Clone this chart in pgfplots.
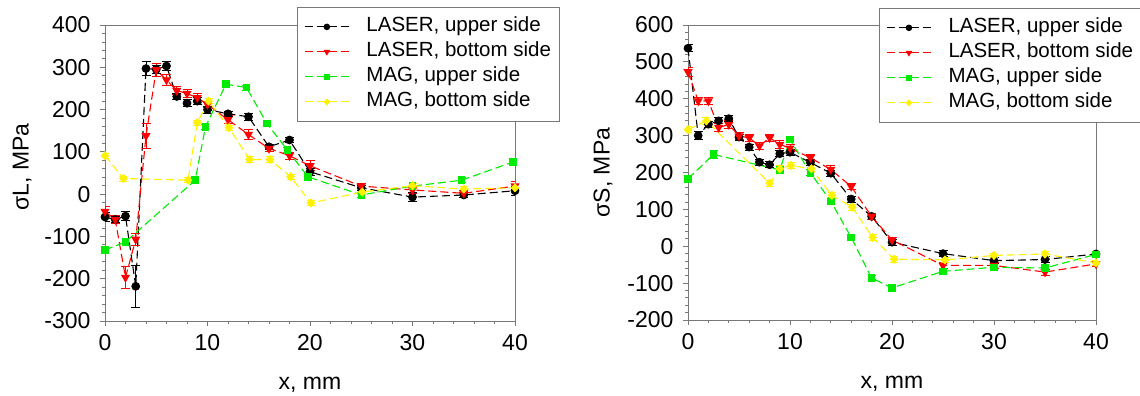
\documentclass[border=0pt]{standalone}
\usepackage{fontspec}
\setmainfont{Liberation Sans}
\usepackage{pgfplots}
\usepackage{pgfplotstable}
\pgfplotsset{compat=1.18}

\definecolor{serRed}{RGB}{255,0,0}
\definecolor{serGreen}{RGB}{0,235,0}
\definecolor{serYellow}{RGB}{255,242,0}
\definecolor{frameGray}{RGB}{120,120,120}

% ---------- longitudinal stress sigma_L ----------
\pgfplotstableread{
x y e
0 -54 10
1 -60 8
2 -52 10
3 -218 50
4 297 16
5 295 10
6 303 10
7 231 8
8 215 8
9 220 8
10 200 8
12 190 6
14 183 8
16 112 6
18 128 6
20 53 8
25 15 6
30 -7 10
35 -2 6
40 8 10
}\Llaserup
\pgfplotstableread{
x y e
0 -41 12
1 -60 10
2 -197 26
3 -107 14
4 138 30
5 294 16
6 270 12
7 245 10
8 238 10
9 228 10
10 212 8
12 176 10
14 141 12
16 108 8
18 91 8
20 67 12
25 19 6
30 10 8
35 2 6
40 19 12
}\Llaserbot
\pgfplotstableread{
x y e
0 -132 8
2 -113 8
8.8 33 6
9.8 159 6
11.8 260 8
13.8 252 6
15.8 167 6
17.8 104 6
19.8 41 8
25 -2 6
30 19 6
34.8 33 6
39.8 76 6
}\Lmagup
\pgfplotstableread{
x y e
0 91 6
1.8 37 6
8.1 33 6
9 169 6
10.1 220 6
12.1 157 6
14.1 82 6
16.1 82 6
18.1 41 6
20.1 -21 6
25.1 5 6
30 20 6
35 12 6
40 15 6
}\Lmagbot

% ---------- transverse stress sigma_S ----------
\pgfplotstableread{
x y e
0 537 10
1 300 10
2 331 8
3 340 8
4 346 8
5 296 8
6 269 8
7 228 8
8 221 8
9 251 8
10 255 8
12 227 8
14 198 8
16 128 8
18 81 8
20 11 8
25 -20 8
30 -39 8
35 -36 8
40 -21 8
}\Slaserup
\pgfplotstableread{
x y e
0 473 12
1 394 10
2 394 10
3 322 10
4 330 10
5 299 10
6 294 10
7 272 10
8 294 10
9 276 10
10 266 10
12 240 10
14 208 10
16 162 8
18 81 8
20 17 8
25 -52 8
30 -52 8
35 -70 8
40 -48 8
}\Slaserbot
\pgfplotstableread{
x y e
0 183 8
2.5 249 10
9 207 8
10 289 8
12 199 8
14 122 8
16 24 8
18 -86 6
20 -113 6
25 -68 6
30 -57 6
35 -59 6
40 -22 6
}\Smagup
\pgfplotstableread{
x y e
0 316 8
1.8 340 10
8 171 8
9 210 8
10.1 219 8
12.1 210 8
14.1 138 8
16.1 106 8
18.1 24 8
20.2 -35 8
25.2 -37 6
30 -25 6
35 -21 6
40 -45 6
}\Smagbot

\pgfplotsset{
  stressaxis/.style={
    scale only axis,
    anchor=south west,
    xmin=0, xmax=40,
    xtick={0,10,20,30,40},
    minor x tick num=4,
    minor y tick num=4,
    tick pos=left,
    tick align=outside,
    major tick length=5bp,
    minor tick length=3bp,
    axis line style={frameGray, line width=0.9bp},
    every tick/.style={frameGray, line width=0.8bp},
    /pgf/number format/assume math mode=true,
    tick label style={font=\fontsize{23bp}{27bp}\selectfont, black},
    yticklabel style={xshift=-6bp},
    xticklabel style={yshift=-5bp},
    xlabel={x, mm},
    every axis x label/.style={at={(axis description cs:0.5,-0.215)}, anchor=center,
      font=\fontsize{23bp}{27bp}\selectfont},
    legend cell align=left,
    legend style={anchor=north west, draw=frameGray, line width=0.9bp, fill=white,
      font=\fontsize{20.5bp}{24bp}\selectfont,
      inner xsep=7bp, inner ysep=7bp, row sep=0bp, column sep=16bp,
      nodes={inner xsep=1bp, inner ysep=1.5bp, text height=16bp, text depth=6bp}},
  },
  sercommon/.style={line width=1.1bp, dash pattern=on 8bp off 4bp,
    error bars/y dir=both, error bars/y explicit,
    legend image code/.code={%
      \draw[mark repeat=2, mark phase=2, ##1, mark size=2.7bp]
        plot coordinates {(0bp,0bp) (22bp,0bp) (44bp,0bp)};}},
  laserup/.style={sercommon, draw=black, mark=*, mark size=3.8bp,
    mark options={solid, fill=black, draw=black},
    error bars/error bar style={solid, line width=0.9bp, black},
    error bars/error mark options={rotate=90, mark size=4.5bp, solid, line width=0.9bp, black}},
  laserbot/.style={sercommon, draw=serRed, mark=triangle*, mark size=4.2bp,
    mark options={solid, rotate=180, fill=serRed, draw=serRed},
    error bars/error bar style={solid, line width=0.9bp, serRed},
    error bars/error mark options={rotate=90, mark size=4.5bp, solid, line width=0.9bp, serRed}},
  magup/.style={sercommon, draw=serGreen, mark=square*, mark size=3.2bp,
    mark options={solid, fill=serGreen, draw=serGreen},
    error bars/error bar style={solid, line width=0.9bp, serGreen},
    error bars/error mark options={rotate=90, mark size=4bp, solid, line width=0.9bp, serGreen}},
  magbot/.style={sercommon, draw=serYellow, mark=diamond*, mark size=3.8bp,
    mark options={solid, xscale=1.25, fill=serYellow, draw=serYellow},
    error bars/error bar style={solid, line width=0.9bp, serYellow},
    error bars/error mark options={rotate=90, mark size=4bp, solid, line width=0.9bp, serYellow}},
}

\begin{document}
\begin{tikzpicture}[font=\fontsize{23bp}{27bp}\selectfont]

\begin{axis}[stressaxis,
  at={(105bp,75bp)}, width=410bp, height=296bp,
  ymin=-300, ymax=400, ytick={-300,-200,...,400},
  ylabel={σL, MPa},
  every axis y label/.style={at={(axis description cs:-0.202,0.52)}, rotate=90, anchor=center},
  legend style={at={(axis description cs:0.468,1.061)}}]
\addplot[laserup]  table[x=x, y=y, y error=e] {\Llaserup};
\addlegendentry{LASER, upper side}
\addplot[laserbot] table[x=x, y=y, y error=e] {\Llaserbot};
\addlegendentry{LASER, bottom side}
\addplot[magup]    table[x=x, y=y, y error=e] {\Lmagup};
\addlegendentry{MAG, upper side}
\addplot[magbot]   table[x=x, y=y, y error=e] {\Lmagbot};
\addlegendentry{MAG, bottom side}
\end{axis}

\begin{axis}[stressaxis,
  at={(688bp,76bp)}, width=408bp, height=295bp,
  ymin=-200, ymax=600, ytick={-200,-100,...,600},
  ylabel={σS, MPa},
  every axis y label/.style={at={(axis description cs:-0.208,0.50)}, rotate=90, anchor=center},
  legend style={at={(axis description cs:0.468,1.058)}}]
\addplot[laserup]  table[x=x, y=y, y error=e] {\Slaserup};
\addlegendentry{LASER, upper side}
\addplot[laserbot] table[x=x, y=y, y error=e] {\Slaserbot};
\addlegendentry{LASER, bottom side}
\addplot[magup]    table[x=x, y=y, y error=e] {\Smagup};
\addlegendentry{MAG, upper side}
\addplot[magbot]   table[x=x, y=y, y error=e] {\Smagbot};
\addlegendentry{MAG, bottom side}
\end{axis}

\pgfresetboundingbox
\path (0bp,0bp) rectangle (1140bp,396bp);
\end{tikzpicture}
\end{document}
